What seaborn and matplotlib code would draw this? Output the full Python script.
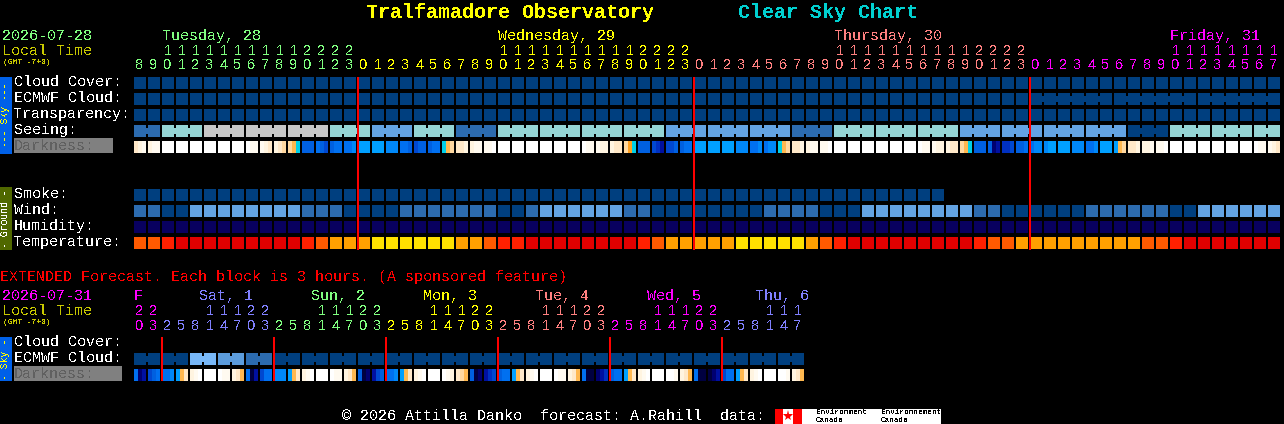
import matplotlib
matplotlib.use("Agg")
import matplotlib.pyplot as plt
from matplotlib.colors import ListedColormap
from matplotlib.patches import Rectangle
import numpy as np
import seaborn as sns

WIDTH, HEIGHT = 1284, 424
BLOCK = 12
PITCH = 14
LEFT = 134
MONO = "Liberation Mono"
DIGITS = "Liberation Sans"

nan = float("nan")

# hour row of the main chart, one per block
main_hours = [8, 9, 10, 11, 12, 13, 14, 15, 16, 17, 18, 19, 20, 21, 22, 23,
              0, 1, 2, 3, 4, 5, 6, 7, 8, 9, 10, 11, 12, 13, 14, 15, 16, 17, 18, 19, 20, 21, 22, 23,
              0, 1, 2, 3, 4, 5, 6, 7, 8, 9, 10, 11, 12, 13, 14, 15, 16, 17, 18, 19, 20, 21, 22, 23,
              0, 1, 2, 3, 4, 5, 6, 7, 8, 9, 10, 11, 12, 13, 14, 15, 16, 17]
main_day_blocks = [16, 24, 24, 18]
main_day_colors = ["#80ff80", "#ffff00", "#ff8080", "#ff00ff"]
main_day_names = ["Tuesday, 28", "Wednesday, 29", "Thursday, 30", "Friday, 31"]
main_day_cols = [2, 26, 50, 74]
midnight_cols = [16, 40, 64]

ext_hours = [20, 23,
             2, 5, 8, 11, 14, 17, 20, 23,
             2, 5, 8, 11, 14, 17, 20, 23,
             2, 5, 8, 11, 14, 17, 20, 23,
             2, 5, 8, 11, 14, 17, 20, 23,
             2, 5, 8, 11, 14, 17, 20, 23,
             2, 5, 8, 11, 14, 17]
ext_day_blocks = [2, 8, 8, 8, 8, 8, 6]
ext_day_colors = ["#ff00ff", "#8080ff", "#80ff80", "#ffff00", "#ff8080", "#ff00ff", "#8080ff"]
ext_day_names = ["F", "Sat, 1", "Sun, 2", "Mon, 3", "Tue, 4", "Wed, 5", "Thu, 6"]
ext_day_x = [134, 199, 311, 423, 535, 647, 755]
ext_midnight_cols = [2, 10, 18, 26, 34, 42]

# rows use a level into their colour list
sky_colors = ["#003f7f", "#2c6baf", "#5c9cdc", "#63a3e3", "#78b8f8", "#95d5d5", "#c7c7c7"]
cloud_cover = [0] * 82
ecmwf_cloud = [0] * 82
ecmwf_groups = [1] * 64 + [6, 6, 6]
transparency = [0] * 82
seeing = [1, 5, 6, 6, 6, 5, 3, 5, 1, 5, 5, 5, 5, 3, 3, 3, 1, 5, 5, 5, 3, 3, 3, 3, 0, 5, 5, 5]
seeing_groups = [2] + [3] * 26 + [2]
smoke = [0] * 58 + [nan] * 24
wind = [1, 1, 0, 0, 3, 3, 3, 3, 3, 3, 3, 3, 1, 1, 1, 0, 0, 0, 0, 1, 1,
        1, 1, 1, 1, 1, 0, 0, 1, 3, 3, 3, 3, 3, 3, 1, 1, 0, 0, 0, 0, 0, 0, 0, 0,
        1, 1, 1, 1, 0, 0, 0, 3, 3, 3, 3, 3, 3, 3, 3, 1, 1, 0, 0, 0, 0, 0, 0,
        1, 1, 1, 1, 1, 1, 0, 0, 3, 3, 3, 3, 3, 3]

humidity_colors = ["#08005f"]
humidity = [0] * 82

temp_colors = ["#e00000", "#ff2000", "#ff5a00", "#ffa000", "#ffe000"]
temperature = [2, 2, 1, 0, 0, 0, 0, 0, 0, 0, 0, 0, 1, 2, 3, 3, 3, 4, 4, 4, 4,
               4, 4, 3, 3, 2, 1, 1, 0, 0, 0, 0, 0, 0, 0, 0, 1, 2, 3, 3, 3, 3, 3,
               4, 4, 4, 4, 4, 3, 2, 1, 0, 0, 0, 0, 0, 0, 0, 0, 0, 1, 2, 2, 3,
               3, 3, 3, 3, 3, 3, 3, 3, 2, 2, 1, 0, 0, 0, 0, 0, 0, 0]

ext_ecmwf = [0, 0, 4, 2, 1, 0, 0, 0, 0, 0, 0, 0, 0, 0, 0, 0, 0, 0, 0, 0, 0, 0, 0, 0]
ext_ecmwf_groups = [2] * 24

# darkness has three readings across each block
dark_colors = ["#ffffff", "#fffaf0", "#fff4e0", "#ffe8c8", "#ffd8a0", "#ffb850", "#ffa020",
               "#00d0e8", "#00a0ff", "#0088f8", "#0070f0", "#0060e0", "#0048d0", "#0030c0",
               "#0010a0", "#000070", "#000040"]
darkness = [
    [3, 2, 1], [2, 1, 1], [0, 0, 0], [0, 0, 0], [0, 0, 0], [0, 0, 0], [0, 0, 0], [0, 0, 0],
    [0, 1, 1], [1, 2, 3], [2, 3, 4], [4, 5, 7], [11, 11, 11], [10, 11, 12], [11, 10, 10], [10, 10, 9],
    [8, 8, 8], [8, 8, 8], [9, 9, 9], [10, 10, 11], [12, 11, 11], [11, 10, 10], [7, 5, 4], [3, 3, 2],
    [2, 1, 1], [1, 1, 0], [0, 0, 0], [0, 0, 0], [0, 0, 0], [0, 0, 0], [0, 0, 0], [0, 0, 0],
    [0, 1, 1], [1, 2, 2], [2, 3, 3], [4, 6, 7], [11, 11, 11], [12, 13, 14], [12, 12, 11], [11, 10, 10],
    [8, 8, 8], [8, 8, 8], [8, 8, 8], [9, 9, 9], [10, 10, 9], [10, 9, 9], [7, 5, 4], [3, 3, 2],
    [2, 1, 1], [1, 1, 0], [0, 0, 0], [0, 0, 0], [0, 0, 0], [0, 0, 0], [0, 0, 0], [0, 0, 0],
    [0, 1, 1], [1, 2, 2], [2, 3, 3], [4, 5, 7], [11, 11, 11], [11, 15, 14], [13, 13, 12], [11, 11, 10],
    [10, 9, 9], [9, 8, 8], [8, 8, 8], [9, 9, 9], [10, 10, 9], [8, 8, 8], [8, 5, 4], [3, 3, 2],
    [2, 2, 1], [1, 1, 0], [0, 0, 0], [0, 0, 0], [0, 0, 0], [0, 0, 0], [0, 0, 0], [0, 0, 0],
    [0, 1, 1], [1, 2, 3],
]
ext_darkness = [
    [10, 15, 14], [12, 11, 10], [10, 10, 9], [8, 5, 3], [2, 1, 0], [0, 0, 0], [0, 1, 1], [2, 3, 5],
    [10, 16, 14], [12, 10, 10], [9, 9, 9], [8, 5, 3], [2, 1, 0], [0, 0, 0], [0, 1, 1], [2, 3, 5],
    [11, 16, 15], [14, 12, 11], [10, 10, 9], [8, 5, 3], [2, 1, 0], [0, 0, 0], [0, 1, 2], [3, 4, 5],
    [11, 16, 15], [14, 13, 12], [11, 10, 10], [8, 5, 3], [2, 1, 0], [0, 0, 0], [0, 1, 1], [2, 3, 5],
    [10, 16, 16], [15, 14, 13], [11, 10, 10], [8, 5, 3], [2, 1, 0], [0, 0, 0], [0, 0, 1], [2, 3, 5],
    [10, 16, 16], [16, 15, 14], [12, 10, 10], [8, 5, 3], [2, 1, 0], [0, 0, 0], [0, 0, 1], [2, 3, 5],
]

row_labels = ["Cloud Cover:", "ECMWF Cloud:", "Transparency:", "Seeing:"]
ground_labels = ["Smoke:", "Wind:", "Humidity:", "Temperature:"]


def strip(fig, top, blocks, colors, groups=None):
    # blocks is one level per block, or three levels per block
    blocks = np.asarray(blocks, dtype=float)
    if blocks.ndim == 1:
        blocks = blocks[:, None]
    n = len(blocks)
    pixels = np.full((BLOCK, PITCH * n), nan)
    step = BLOCK // blocks.shape[1]
    for i, levels in enumerate(blocks):
        pixels[:, PITCH * i:PITCH * i + BLOCK] = np.repeat(levels, step)
    if groups is not None:
        # 2px gap is half filled where one reading spans several blocks
        i = 0
        for size in groups:
            for j in range(i, i + size - 1):
                pixels[3:9, PITCH * j + BLOCK:PITCH * (j + 1)] = blocks[j, -1]
            i += size
    ax = fig.add_axes([LEFT / WIDTH, 1 - (top + BLOCK) / HEIGHT,
                       PITCH * n / WIDTH, BLOCK / HEIGHT])
    sns.heatmap(pixels, ax=ax, cmap=ListedColormap(colors), vmin=-0.5, vmax=len(colors) - 0.5,
                cbar=False, xticklabels=False, yticklabels=False)
    ax.set_facecolor("black")
    return ax


def label(ax, x, y, text, color="white", size=10.8, **kw):
    ax.text(x, y + 1, text, color=color, fontsize=size, family=MONO, va="center", **kw)


def hour_rows(ax, hours, day_blocks, day_colors, tens_y, ones_y):
    colors = np.repeat(day_colors, day_blocks)
    for i, hour in enumerate(hours):
        x = LEFT + PITCH * i + 5.5
        ax.text(x, ones_y + 1, str(hour % 10), color=colors[i], fontsize=10.5, family=DIGITS,
                ha="center", va="center")
        if hour >= 10:
            ax.text(x, tens_y + 1, str(hour // 10), color=colors[i], fontsize=10.5, family=DIGITS,
                    ha="center", va="center")


def main():
    sns.set_theme(style="white")
    plt.rcParams["text.antialiased"] = False
    plt.rcParams["savefig.facecolor"] = "black"

    fig = plt.figure(figsize=(WIDTH / 100, HEIGHT / 100), dpi=100, facecolor="black")

    strip(fig, 77, cloud_cover, sky_colors)
    strip(fig, 93, ecmwf_cloud, sky_colors, ecmwf_groups)
    strip(fig, 109, transparency, sky_colors)
    strip(fig, 125, np.repeat(seeing, seeing_groups), sky_colors, seeing_groups)
    strip(fig, 141, darkness, dark_colors)

    strip(fig, 189, smoke, sky_colors)
    strip(fig, 205, wind, sky_colors)
    strip(fig, 221, humidity, humidity_colors)
    strip(fig, 237, temperature, temp_colors)

    strip(fig, 353, np.repeat(ext_ecmwf, ext_ecmwf_groups), sky_colors, ext_ecmwf_groups)
    strip(fig, 369, ext_darkness, dark_colors)

    # text, tags and red lines go on one axes in picture pixels
    ax = fig.add_axes([0, 0, 1, 1], zorder=5)
    ax.set_xlim(0, WIDTH)
    ax.set_ylim(HEIGHT, 0)
    ax.axis("off")

    ax.text(366, 12.5, "Tralfamadore Observatory", color="#ffff00", fontsize=14.4,
            family=MONO, weight="bold", va="center")
    ax.text(738, 12.5, "Clear Sky Chart", color="#00d0d0", fontsize=14.4,
            family=MONO, weight="bold", va="center")

    label(ax, 2, 35, "2026-07-28", "#80ff80")
    label(ax, 2, 50, "Local Time", "#c8c800")
    label(ax, 3, 62, "(GMT -7+0)", "#c8c800", size=5.8)
    for name, col, color in zip(main_day_names, main_day_cols, main_day_colors):
        label(ax, LEFT + PITCH * col, 35, name, color)
    hour_rows(ax, main_hours, main_day_blocks, main_day_colors, 50, 64)

    for i, text in enumerate(row_labels):
        label(ax, 14, 81 + 16 * i, text)
    ax.add_patch(Rectangle((14, 138), 99, 15, color="#808080", lw=0))
    label(ax, 14, 145, "Darkness:", "#606060")
    for i, text in enumerate(ground_labels):
        label(ax, 14, 193 + 16 * i, text)

    ax.add_patch(Rectangle((0, 77), 12, 77, color="#0060e8", lw=0))
    ax.text(5.5, 115, "--- Sky ---", color="#ffff00", fontsize=7, family=MONO,
            rotation=90, ha="center", va="center")
    ax.add_patch(Rectangle((0, 187), 12, 63, color="#506800", lw=0))
    ax.text(5.5, 219, "- Ground -", color="white", fontsize=7, family=MONO,
            rotation=90, ha="center", va="center")
    ax.add_patch(Rectangle((0, 337), 12, 44, color="#0060e8", lw=0))
    ax.text(5.5, 359, "- Sky -", color="#ffff00", fontsize=7, family=MONO,
            rotation=90, ha="center", va="center")

    for col in midnight_cols:
        x = LEFT + PITCH * col
        ax.plot([x, x], [77, 250], color="#ff0000", lw=1.44, solid_capstyle="butt")

    label(ax, 0, 276, "EXTENDED Forecast. Each block is 3 hours. (A sponsored feature)", "#ff0000")
    label(ax, 2, 295, "2026-07-31", "#ff00ff")
    label(ax, 2, 310, "Local Time", "#c8c800")
    label(ax, 3, 322, "(GMT -7+0)", "#c8c800", size=5.8)
    for name, x, color in zip(ext_day_names, ext_day_x, ext_day_colors):
        label(ax, x, 295, name, color)
    hour_rows(ax, ext_hours, ext_day_blocks, ext_day_colors, 310, 325)

    label(ax, 14, 341, "Cloud Cover:")
    label(ax, 14, 357, "ECMWF Cloud:")
    ax.add_patch(Rectangle((14, 366), 108, 15, color="#808080", lw=0))
    label(ax, 14, 373, "Darkness:", "#606060")
    for col in ext_midnight_cols:
        x = LEFT + PITCH * col
        ax.plot([x, x], [337, 381], color="#ff0000", lw=1.44, solid_capstyle="butt")

    label(ax, 342, 415, "© 2026 Attilla Danko  forecast: A.Rahill  data:")
    ax.add_patch(Rectangle((775, 409), 166, 15, color="white", lw=0))
    ax.add_patch(Rectangle((775, 409), 8, 15, color="#ff0000", lw=0))
    ax.add_patch(Rectangle((793, 409), 9, 15, color="#ff0000", lw=0))
    ax.plot([788], [416], marker="*", color="#ff0000", ms=8, mew=0)
    for x, word in [(816, "Environment"), (881, "Environnement")]:
        ax.text(x, 413, word, color="black", fontsize=5.5, family=MONO, va="center")
        ax.text(x, 420, "Canada", color="black", fontsize=5.5, family=MONO, va="center")

    fig.savefig("out.png", dpi=100)
    plt.close(fig)


if __name__ == "__main__":
    main()
